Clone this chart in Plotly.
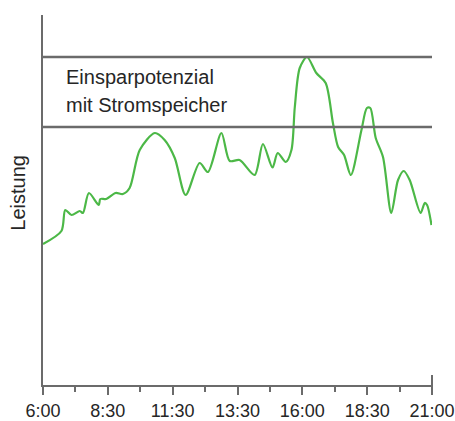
import plotly.graph_objects as go

# time in hours (6 = 6:00), power in relative units
hours = [6.00, 6.71, 6.86, 7.10, 7.42, 7.54, 7.77, 8.15, 8.21, 8.44, 8.80, 9.08, 9.34,
         9.73, 10.31, 10.69, 11.08, 11.50, 12.04, 12.36, 12.88, 13.20, 13.58, 14.16,
         14.48, 14.85, 15.05, 15.36, 15.58, 15.71, 15.90, 16.18, 16.54, 16.90, 17.18,
         17.38, 17.61, 17.87, 18.28, 18.49, 18.62, 18.83, 19.11, 19.43, 19.69, 19.91,
         20.14, 20.56, 20.72, 20.81, 20.98]
leistung = [141, 154, 175, 170, 174, 172, 192, 180, 186, 186, 192, 191, 197,
            235, 252, 245, 227, 190, 222, 213, 252, 224, 225, 210,
            241, 217.5, 232, 223, 235, 278, 317, 328, 312, 302, 262,
            238, 230, 210, 255, 277, 277, 247, 228, 172, 205, 214,
            205, 172, 182, 180, 160]

upper_level = 328
lower_level = 258

tick_vals = [6, 8.5, 11, 13.5, 16, 18.5, 21]
tick_text = ["6:00", "8:30", "11:30", "13:30", "16:00", "18:30", "21:00"]

label_lines = ["Einsparpotenzial", "mit Stromspeicher"]
y_label = "Leistung"

axis_col = "#6b6b6b"
text_col = "#262626"
font_fam = "Liberation Sans, Arial, sans-serif"

fig = go.Figure()
fig.add_trace(go.Scatter(
    x=hours, y=leistung, mode="lines",
    line=dict(color="#4cb847", width=2.2, shape="spline", smoothing=0.8),
    hoverinfo="skip", showlegend=False,
))

for lvl in (upper_level, lower_level):
    fig.add_shape(type="line", xref="paper", yref="y", x0=0, x1=1, y0=lvl, y1=lvl,
                  line=dict(color=axis_col, width=2.5), layer="above")

# end tick crossing axis at right, and y axis extension below x axis
fig.add_shape(type="line", xref="paper", yref="paper", x0=1, x1=1, y0=-0.022, y1=0.027,
              line=dict(color=axis_col, width=2))
fig.add_shape(type="line", xref="paper", yref="paper", x0=0, x1=0, y0=-0.022, y1=0,
              line=dict(color=axis_col, width=2))

fig.add_annotation(x=6.82, y=308, xref="x", yref="y", text=label_lines[0],
                   showarrow=False, xanchor="left", yanchor="middle",
                   font=dict(size=20, color=text_col, family=font_fam))
fig.add_annotation(x=6.82, y=280, xref="x", yref="y", text=label_lines[1],
                   showarrow=False, xanchor="left", yanchor="middle",
                   font=dict(size=20, color=text_col, family=font_fam))
fig.add_annotation(x=-0.065, y=0.519, xref="paper", yref="paper", text=y_label,
                   showarrow=False, textangle=-90, xanchor="center", yanchor="middle",
                   font=dict(size=20, color=text_col, family=font_fam))

fig.update_xaxes(
    range=[6, 21], showline=True, linecolor=axis_col, linewidth=2,
    showgrid=False, zeroline=False, automargin=False,
    ticks="outside", ticklen=8, tickwidth=2, tickcolor=axis_col,
    tickvals=tick_vals, ticktext=tick_text,
    tickfont=dict(size=18, color=text_col, family=font_fam),
    minor=dict(ticks="outside", ticklen=5, tickwidth=2, tickcolor=axis_col,
               tick0=6, dtick=1.25, showgrid=False),
)
fig.update_yaxes(
    range=[0, 370], showline=True, linecolor=axis_col, linewidth=2,
    showgrid=False, zeroline=False, showticklabels=False, ticks="", automargin=False,
)
fig.update_layout(
    width=455, height=421,
    margin=dict(l=43, r=23, t=15, b=36),
    plot_bgcolor="white", paper_bgcolor="white",
    font=dict(family=font_fam, color=text_col),
)
fig.write_html("out.html", config={"displayModeBar": False},
               post_script="document.body.style.margin='0';document.body.style.overflow='hidden';")
